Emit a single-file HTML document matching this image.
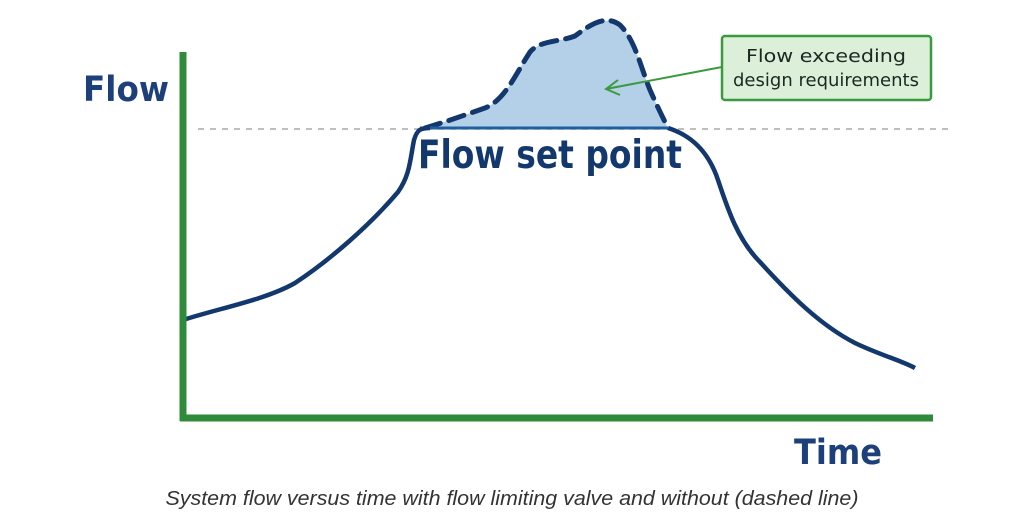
<!DOCTYPE html>
<html><head><style>
html,body{margin:0;padding:0;background:#fff;}
svg{display:block;}
</style></head><body>
<svg width="1024" height="521" viewBox="0 0 1024 521" xmlns="http://www.w3.org/2000/svg" font-family="'DejaVu Sans','Liberation Sans',sans-serif">
<line x1="198" y1="129" x2="950" y2="129" stroke="#aaa" stroke-width="1.5" stroke-dasharray="6,6"/>
<path d="M425,128 C445,122 465,115 485,108 C505,100 515,75 530,52 C540,40 560,42 575,36 C590,25 605,14 620,25 C635,40 640,65 650,90 C658,108 663,118 668,128 Z" fill="#b4d0e8"/>
<path d="M425,128 C445,122 465,115 485,108 C505,100 515,75 530,52 C540,40 560,42 575,36 C590,25 605,14 620,25 C635,40 640,65 650,90 C658,108 663,118 668,128" fill="none" stroke="#12386e" stroke-width="5" stroke-dasharray="16,9" stroke-linecap="round"/>
<line x1="420" y1="128" x2="668" y2="128" stroke="#1f5fa0" stroke-width="3"/>
<path d="M183,320 C220,308 265,300 295,283 C330,260 370,225 398,192 C410,175 410,160 414,140 C417,130 420,128 430,128 M668,128 C690,135 708,150 718,180 C728,210 738,240 760,262 C790,295 820,325 855,343 C880,355 900,360 915,368" fill="none" stroke="#12386e" stroke-width="4.5"/>
<line x1="183" y1="52" x2="183" y2="421" stroke="#2e8b3a" stroke-width="7"/>
<line x1="180" y1="418" x2="933" y2="418" stroke="#2e8b3a" stroke-width="7"/>
<rect x="722" y="36" width="209" height="64" rx="3" fill="#dcefd9" stroke="#3a9a3f" stroke-width="2.5"/>
<text x="826" y="62" text-anchor="middle" font-size="18" fill="#1a2a22" textLength="160" lengthAdjust="spacingAndGlyphs">Flow exceeding</text>
<text x="826" y="86" text-anchor="middle" font-size="18" fill="#1a2a22" textLength="186" lengthAdjust="spacingAndGlyphs">design requirements</text>
<line x1="722" y1="67" x2="606" y2="89" stroke="#3a9a3f" stroke-width="2"/>
<path d="M618,80 L606,89 L620,95" fill="none" stroke="#3a9a3f" stroke-width="2"/>
<text x="83" y="101" font-size="35" font-weight="bold" fill="#1d3f7a" textLength="86" lengthAdjust="spacingAndGlyphs">Flow</text>
<text x="794" y="464" font-size="35" font-weight="bold" fill="#1d3f7a" textLength="88" lengthAdjust="spacingAndGlyphs">Time</text>
<text x="418" y="168" font-size="39" font-weight="bold" fill="#12386e" textLength="264" lengthAdjust="spacingAndGlyphs">Flow set point</text>
<text x="512" y="505" text-anchor="middle" font-size="20" font-style="italic" fill="#333" font-family="'Liberation Sans',sans-serif" textLength="693" lengthAdjust="spacingAndGlyphs">System flow versus time with flow limiting valve and without (dashed line)</text>
</svg>
</body></html>
